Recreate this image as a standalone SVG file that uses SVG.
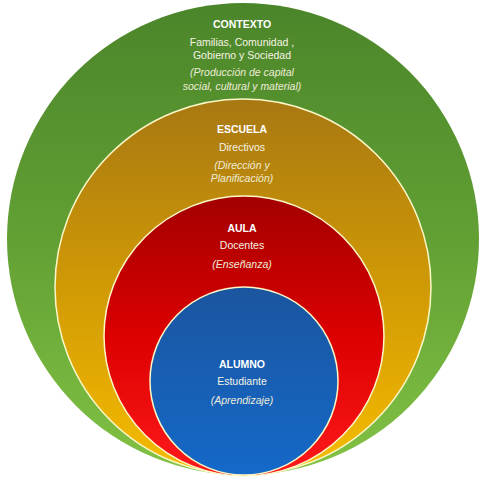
<svg xmlns="http://www.w3.org/2000/svg" width="485" height="480" viewBox="0 0 485 480">
  <defs>
    <linearGradient id="gGreen" x1="0" y1="0" x2="0" y2="1">
      <stop offset="0" stop-color="#4b852a"/>
      <stop offset="0.5" stop-color="#62a034"/>
      <stop offset="1" stop-color="#82c244"/>
    </linearGradient>
    <linearGradient id="gGold" x1="0" y1="0" x2="0" y2="1">
      <stop offset="0" stop-color="#a87812"/>
      <stop offset="0.5" stop-color="#d09a05"/>
      <stop offset="1" stop-color="#f6bc00"/>
    </linearGradient>
    <linearGradient id="gRed" x1="0" y1="0" x2="0" y2="1">
      <stop offset="0" stop-color="#a30000"/>
      <stop offset="0.5" stop-color="#dc0000"/>
      <stop offset="1" stop-color="#ff1a1a"/>
    </linearGradient>
    <linearGradient id="gBlue" x1="0" y1="0" x2="0" y2="1">
      <stop offset="0" stop-color="#1b559f"/>
      <stop offset="1" stop-color="#1469c9"/>
    </linearGradient>
  </defs>
  <style>
    .ring { stroke: #fbf8c8; stroke-width: 1.5; }
    text { font-family: "Liberation Sans", Arial, sans-serif; font-size: 10.5px; fill: #f6f4e4; text-anchor: middle; }
    .h { font-weight: bold; fill: #ffffff; }
    .i { font-style: italic; fill: #eeecd8; }
  </style>
  <rect width="485" height="480" fill="#ffffff"/>
  <g id="contexto">
    <circle cx="243" cy="239" r="236" fill="url(#gGreen)"/>
    <text class="h" x="242" y="28">CONTEXTO</text>
    <text x="242" y="46">Familias, Comunidad ,</text>
    <text x="242" y="59">Gobierno y Sociedad</text>
    <text class="i" x="242" y="76">(Producción de capital</text>
    <text class="i" x="242" y="90">social, cultural y material)</text>
  </g>
  <g id="escuela">
    <circle class="ring" cx="243" cy="287" r="188" fill="url(#gGold)"/>
    <text class="h" x="242" y="133">ESCUELA</text>
    <text x="242" y="151">Directivos</text>
    <text class="i" x="242" y="169">(Dirección y</text>
    <text class="i" x="242" y="182">Planificación)</text>
  </g>
  <g id="aula">
    <circle class="ring" cx="244" cy="336" r="140" fill="url(#gRed)"/>
    <text class="h" x="242" y="232">AULA</text>
    <text x="242" y="249">Docentes</text>
    <text class="i" x="242" y="268">(Enseñanza)</text>
  </g>
  <g id="alumno">
    <circle class="ring" cx="244" cy="381" r="94" fill="url(#gBlue)"/>
    <text class="h" x="242" y="368">ALUMNO</text>
    <text x="242" y="385">Estudiante</text>
    <text class="i" x="242" y="404">(Aprendizaje)</text>
  </g>
  <g id="connectors"/>
</svg>
